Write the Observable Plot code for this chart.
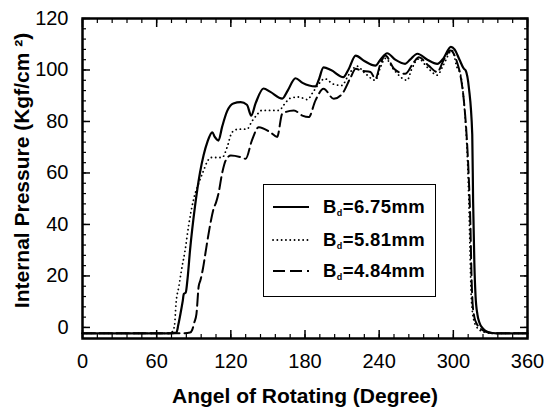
<!DOCTYPE html>
<html>
<head>
<meta charset="utf-8">
<script src="https://cdn.jsdelivr.net/npm/d3@7"></script>
<script src="https://cdn.jsdelivr.net/npm/@observablehq/plot@0.6"></script>
<style>
  body { margin: 0; background: #fff; }
  #wrap { position: relative; width: 545px; height: 417px; font-family: "Liberation Sans", Arial, sans-serif; }
  #legend { position: absolute; left: 263px; top: 184px; width: 171px; height: 111px; border: 1.6px solid #000; background: #fff; }
  .row { position: absolute; left: 0; height: 22px; display: flex; align-items: center; }
  .row svg { margin-left: 8px; }
  .row span { margin-left: 13px; font-weight: bold; font-size: 18.5px; color: #000; letter-spacing: 0.4px; }
  .row sub { font-size: 9px; vertical-align: -3px; }
</style>
</head>
<body>
<div id="wrap"></div>
<script>
// Angle of rotating (degree) and internal pressure (kgf/cm^2)
const angles675 = [0, 40, 70, 76, 77.5, 79.3, 81, 82, 83.5, 85, 87, 91, 95, 98, 101, 105, 107, 110, 113, 117, 122, 128, 133, 136.5, 140, 146.4, 152, 161.6, 166, 172.3, 178, 188.5, 191, 195, 201, 211, 215, 221, 228, 237, 241, 246.5, 253, 261, 265, 271, 279, 287, 292, 298, 301, 305, 308.5, 310, 312.6, 315.3, 316, 317, 318, 319.5, 321, 324, 328, 335, 345, 360];
const press675 = [-2.3, -2.3, -2.3, -2, 1, 5.4, 10, 13, 13.5, 19, 30, 47, 60, 67, 72, 75.8, 74, 72.6, 78, 84, 87, 87.5, 86.5, 82.3, 87, 92.8, 91.5, 88.9, 92, 96.8, 95, 93.6, 96, 101, 100, 97.2, 100, 105.6, 103.5, 101.7, 104, 106.5, 104, 102.4, 104, 106.3, 104, 102.4, 104.5, 109, 108, 104, 100.5, 99.8, 93, 75, 49, 25, 12, 5, 2, -0.5, -1.8, -2.3, -2.3, -2.3];

const angles581 = [0, 40, 70, 73, 74.5, 75.6, 78, 80, 83, 86, 90, 94, 98, 101, 104, 113, 117, 121, 126, 133, 137, 141, 145, 159, 163, 168, 175, 182, 186, 191, 196, 203, 210, 214, 218, 222, 228, 237, 241, 245, 252, 262.7, 266, 272, 279, 287, 292, 299, 303, 306, 309, 311, 312.5, 313.5, 314.5, 316.5, 320, 325, 332, 360];
const press581 = [-2.3, -2.3, -2.3, -1.5, 1, 9, 16, 22, 30, 40, 50, 56, 61, 64.5, 66, 66, 70, 75.8, 77, 77, 80, 82.5, 84.3, 84.3, 86.5, 89, 89.5, 88.5, 91, 94.5, 96.6, 94.5, 94, 97, 100, 101.5, 99, 96, 101, 104.5, 100, 96, 100, 104.3, 101, 98, 102, 107.6, 101, 98, 85, 70, 50, 30, 12, 3, -0.5, -1.8, -2.3, -2.3];

const angles484 = [0, 40, 80, 87, 88.7, 90.5, 92.2, 94, 95.4, 97.5, 99.5, 101.5, 103.8, 106, 108, 110, 113, 116, 120, 129, 132, 137, 142.6, 152, 157.5, 161.6, 171, 177.8, 183, 188.5, 195, 203.3, 210, 217, 221, 225, 233, 237, 241, 245, 252, 261, 268, 272, 280, 287, 292, 297.7, 303, 306, 308.5, 311, 312.6, 313.8, 314.7, 315.5, 317, 319, 322, 327, 333, 360];
const press484 = [-2.3, -2.3, -2.3, -2, -1, 2, 5.3, 16, 18.3, 23, 29, 35, 41.2, 46, 48.5, 52, 60, 65, 66.8, 66, 65.5, 72.6, 77.8, 75.8, 74, 83, 84.3, 82.3, 81.7, 88.2, 92.7, 88.8, 90.7, 97.2, 100.5, 99.8, 99.2, 96.6, 102.4, 105.6, 100.5, 98.5, 103, 104.9, 101.7, 99.2, 103.7, 107.6, 103, 97.2, 88.2, 72.6, 57, 40, 20, 10, 4, 1.4, -0.5, -1.8, -2.3, -2.3];

const xTickLabels = [0, 60, 120, 180, 240, 300, 360];
const xMinorTicks = d3.range(0, 361, 12);
const yTickLabels = [0, 20, 40, 60, 80, 100, 120];
const yMinorTicks = d3.range(0, 121, 4);

const seriesNames = ["6.75mm", "5.81mm", "4.84mm"];

const toRows = (a, p, name) => a.map((v, i) => ({angle: v, pressure: p[i], series: name}));
const s675 = toRows(angles675, press675, seriesNames[0]);
const s581 = toRows(angles581, press581, seriesNames[1]);
const s484 = toRows(angles484, press484, seriesNames[2]);

const font = { fontFamily: "Liberation Sans, Arial, sans-serif" };

const chart = Plot.plot({
  width: 545,
  height: 417,
  marginLeft: 82,
  marginRight: 18,
  marginTop: 18,
  marginBottom: 79,
  style: { background: "#fff", color: "#000", fontFamily: "Liberation Sans, Arial, sans-serif" },
  x: { domain: [0, 360] },
  y: { domain: [-4.3, 120] },
  marks: [
    // inward minor ticks on all four sides
    Plot.axisX(xMinorTicks, { anchor: "bottom", tickSize: -4, text: null, label: null, strokeWidth: 1.2 }),
    Plot.axisX(xMinorTicks, { anchor: "top", tickSize: -4, text: null, label: null, strokeWidth: 1.2 }),
    Plot.axisY(yMinorTicks, { anchor: "left", tickSize: -4, text: null, label: null, strokeWidth: 1.2 }),
    Plot.axisY(yMinorTicks, { anchor: "right", tickSize: -4, text: null, label: null, strokeWidth: 1.2 }),
    // inward major ticks with labels
    Plot.axisX(xTickLabels, { anchor: "bottom", tickSize: -8, tickPadding: 23, label: null, fontSize: 20, strokeWidth: 1.5, ...font }),
    Plot.axisX(xTickLabels, { anchor: "top", tickSize: -8, text: null, label: null, strokeWidth: 1.5 }),
    Plot.axisY(yTickLabels, { anchor: "left", tickSize: -8, tickPadding: 22, label: null, fontSize: 20, strokeWidth: 1.5, ...font }),
    Plot.axisY(yTickLabels, { anchor: "right", tickSize: -8, text: null, label: null, strokeWidth: 1.5 }),
    Plot.line(s675, { x: "angle", y: "pressure", stroke: "#000", strokeWidth: 2.2, curve: "monotone-x" }),
    Plot.line(s581, { x: "angle", y: "pressure", stroke: "#000", strokeWidth: 1.8, strokeDasharray: "0.1,4.2", strokeLinecap: "round", curve: "monotone-x" }),
    Plot.line(s484, { x: "angle", y: "pressure", stroke: "#000", strokeWidth: 2, strokeDasharray: "12,5", curve: "monotone-x" }),
    Plot.frame({ stroke: "#000", strokeWidth: 2.5 }),
    Plot.text(["Angel of Rotating (Degree)"], { frameAnchor: "bottom", dy: 64, fontSize: 21, fontWeight: "bold", letterSpacing: "0.5px", text: d => d, ...font }),
    Plot.text(["Internal Pressure (Kgf/cm ²)"], { frameAnchor: "left", textAnchor: "middle", dx: -60, dy: -8, rotate: -90, fontSize: 21, fontWeight: "bold", letterSpacing: "0.3px", text: d => d, ...font })
  ]
});

const wrap = document.getElementById("wrap");
wrap.appendChild(chart);

// legend
const legend = document.createElement("div");
legend.id = "legend";
const dashes = ["none", "0.1,4.2", "12,5"];
const widths = [2.2, 1.8, 2];
const rowTops = [11, 44, 75];
seriesNames.forEach((name, i) => {
  const row = document.createElement("div");
  row.className = "row";
  row.style.top = rowTops[i] + "px";
  row.innerHTML = `<svg width="38" height="10"><line x1="1" y1="5" x2="37" y2="5" stroke="#000" stroke-width="${widths[i]}" stroke-dasharray="${dashes[i]}" stroke-linecap="${i === 1 ? "round" : "butt"}"/></svg><span>B<sub>d</sub>=${name}</span>`;
  legend.appendChild(row);
});
wrap.appendChild(legend);
</script>
</body>
</html>
